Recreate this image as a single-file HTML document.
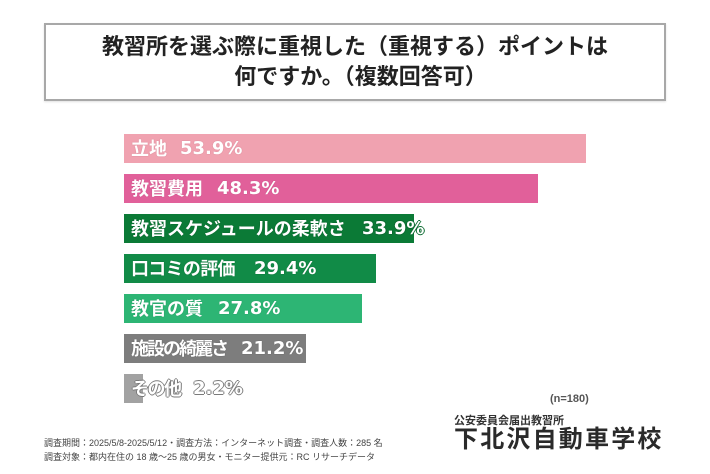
<!DOCTYPE html>
<html lang="ja">
<head>
<meta charset="utf-8">
<style>
  html, body { margin:0; padding:0; }
  body { width:710px; height:474px; position:relative; overflow:hidden; background:#fff;
         font-family:"Liberation Sans","Noto Sans CJK JP",sans-serif; }
  .box { position:absolute; left:44px; top:23px; width:618px; height:74px;
         border:2px solid #a8a8a8; background:#fff; box-shadow:0 1px 2px rgba(0,0,0,0.12); }
  .t { position:absolute; left:0; width:710px; text-align:center; font-size:22px; font-weight:bold;
       color:#222; line-height:30px; white-space:nowrap; font-family:"Liberation Sans","Noto Sans CJK JP",sans-serif; }
  .bar { position:absolute; left:124px; height:29px; }
  .lab { position:absolute; line-height:29px; height:29px; color:#fff; font-weight:bold; white-space:nowrap;
         font-size:18px; font-family:"Noto Sans CJK JP",sans-serif; }
  .pct { position:absolute; line-height:29px; height:29px; color:#fff; font-weight:bold; white-space:nowrap;
         font-size:18px; font-family:"DejaVu Sans","Liberation Sans",sans-serif; }
  .foot { position:absolute; left:44px; font-size:9px; color:#444; white-space:nowrap; line-height:12px;
          font-family:"Liberation Sans","Noto Sans CJK JP",sans-serif; }
</style>
</head>
<body>
  <div class="box"></div>
  <div class="t" style="top:32px;">教習所を選ぶ際に重視した（重視する）ポイントは</div>
  <div class="t" style="top:62px;padding-left:11px;box-sizing:border-box;">何ですか。（複数回答可）</div>

  <!-- bars -->
  <div class="bar" style="top:134px;width:462px;background:#f0a2b0;"></div>
  <div class="bar" style="top:174px;width:414px;background:#e1609a;"></div>
  <div class="bar" style="top:214px;width:290px;background:#0b7a36;"></div>
  <div class="bar" style="top:254px;width:252px;background:#118b47;"></div>
  <div class="bar" style="top:294px;width:238px;background:#2db574;"></div>
  <div class="bar" style="top:334px;width:182px;background:#7d7d7d;"></div>
  <div class="bar" style="top:374px;width:19px;background:#a2a2a2;"></div>

  <!-- labels -->
  <div class="lab" style="top:134px;left:131px;text-shadow:0 0 1px #d98898,0 0 1px #d98898;">立地</div>
  <div class="pct" style="top:134px;left:180px;text-shadow:0 0 1px #d98898,0 0 1px #d98898;">53.9%</div>

  <div class="lab" style="top:174px;left:131px;text-shadow:0 0 1px #b84a7c;">教習費用</div>
  <div class="pct" style="top:174px;left:217px;text-shadow:0 0 1px #b84a7c;">48.3%</div>

  <div class="lab" style="top:214px;left:131px;text-shadow:0 0 1px #064d22;">教習スケジュールの柔軟さ</div>
  <div class="pct" style="top:214px;left:362px;text-shadow:-1px 0 #0b6a30,1px 0 #0b6a30,0 -1px #0b6a30,0 1px #0b6a30;">33.9%</div>

  <div class="lab" style="top:254px;left:131px;letter-spacing:-0.7px;text-shadow:0 0 1px #075a2c;">口コミの評価</div>
  <div class="pct" style="top:254px;left:254px;text-shadow:0 0 1px #075a2c;">29.4%</div>

  <div class="lab" style="top:294px;left:131px;text-shadow:0 0 1px #1a8a55;">教官の質</div>
  <div class="pct" style="top:294px;left:218px;text-shadow:0 0 1px #1a8a55;">27.8%</div>

  <div class="lab" style="top:334px;left:131px;letter-spacing:-2px;text-shadow:0 0 1px #555;">施設の綺麗さ</div>
  <div class="pct" style="top:334px;left:241px;text-shadow:0 0 1px #555;">21.2%</div>

  <div class="lab" style="top:374px;left:131px;letter-spacing:-1.5px;text-shadow:-1px 0 #7a7a7a,1px 0 #7a7a7a,0 -1px #7a7a7a,0 1px #7a7a7a;">その他</div>
  <div class="pct" style="top:374px;left:193px;text-shadow:-1px 0 #7a7a7a,1px 0 #7a7a7a,0 -1px #7a7a7a,0 1px #7a7a7a;">2.2%</div>

  <!-- n -->
  <div style="position:absolute;left:550px;top:392px;font-size:11px;line-height:14px;color:#555;font-weight:bold;font-family:'Liberation Sans',sans-serif;">(n=180)</div>

  <!-- school -->
  <div style="position:absolute;left:454px;top:414px;font-size:11px;line-height:14px;color:#333;font-weight:bold;white-space:nowrap;font-family:'Liberation Sans','Noto Sans CJK JP',sans-serif;">公安委員会届出教習所</div>
  <div style="position:absolute;left:454px;top:425px;font-size:24px;line-height:30px;color:#2a2a2a;font-weight:bold;letter-spacing:2.2px;white-space:nowrap;font-family:'Liberation Sans','Noto Sans CJK JP',sans-serif;">下北沢自動車学校</div>

  <!-- survey notes -->
  <div class="foot" style="top:437px;">調査期間：2025/5/8-2025/5/12・調査方法：インターネット調査・調査人数：285 名</div>
  <div class="foot" style="top:451px;">調査対象：都内在住の 18 歳～25 歳の男女・モニター提供元：RC リサーチデータ</div>
</body>
</html>
